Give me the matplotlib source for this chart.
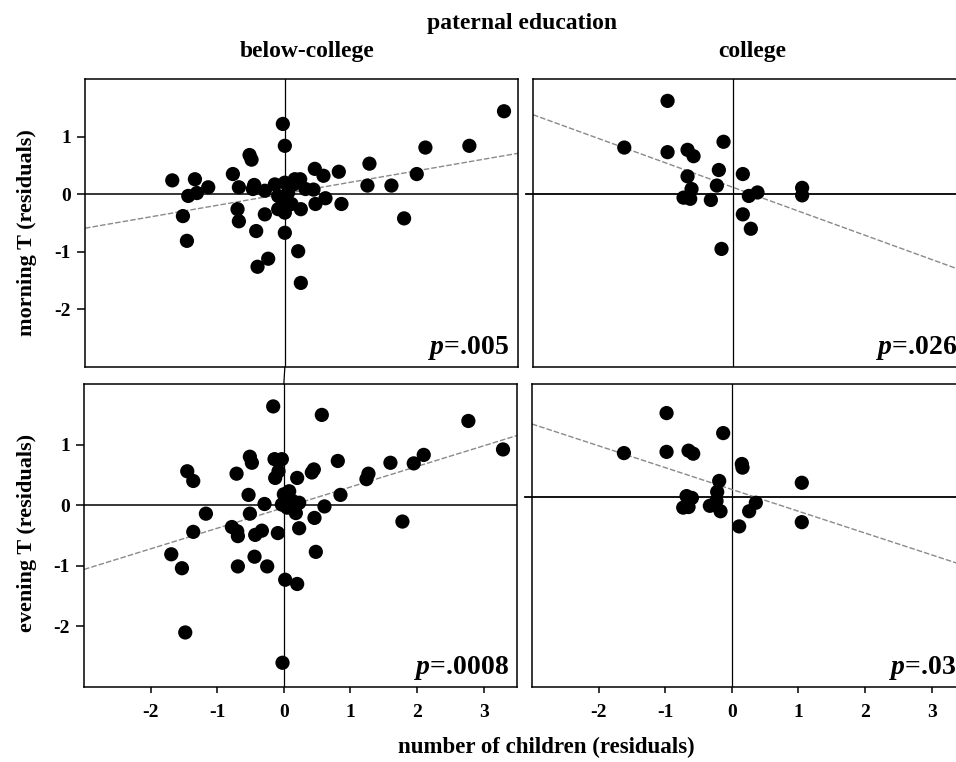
import matplotlib.pyplot as plt
from matplotlib.patches import ConnectionPatch

plt.rcParams['font.family'] = ['Liberation Serif', 'DejaVu Serif']
plt.rcParams['font.weight'] = 'bold'
plt.rcParams['axes.unicode_minus'] = False
plt.rcParams['mathtext.fontset'] = 'custom'
plt.rcParams['mathtext.it'] = 'Liberation Serif:style=italic:weight=bold'
plt.rcParams['mathtext.rm'] = 'Liberation Serif:weight=bold'

# morning T, below-college
mb_x = [3.29, -0.03, 0.00, -0.53, -0.50, 2.11, 2.77, 1.27, 1.98, 1.24, 1.60, 1.79,
        0.81, 0.45, 0.58, 0.85, 0.61, 0.43, 0.46, 0.24, 0.20, 0.24, 0.00, -0.25,
        -0.41, -0.43, -0.30, -0.69, -0.71, -0.78, -0.69, -0.48, -0.46, -0.30, -0.15,
        0.00, 0.15, 0.23, 0.13, -0.10, -0.03, 0.00, 0.10, -0.10, -1.69, -1.35,
        -1.15, -1.32, -1.45, -1.53, -1.47, 0.31, 0.05]
mb_y = [1.44, 1.22, 0.84, 0.68, 0.60, 0.81, 0.84, 0.53, 0.35, 0.15, 0.15, -0.42,
        0.39, 0.44, 0.32, -0.17, -0.07, 0.08, -0.17, -0.26, -0.99, -1.54, -0.67, -1.12,
        -1.26, -0.64, -0.35, -0.47, -0.26, 0.35, 0.12, 0.09, 0.16, 0.06, 0.17,
        0.20, 0.26, 0.26, 0.17, -0.03, -0.15, -0.32, -0.17, -0.26, 0.24, 0.26,
        0.12, 0.02, -0.03, -0.38, -0.81, 0.09, 0.03]

# morning T, college
mc_x = [-0.98, -1.63, -0.98, -0.68, -0.59, -0.14, -0.21, -0.68, -0.62, -0.74, -0.64,
        -0.24, -0.33, 0.15, 0.24, 0.37, 0.15, 0.27, -0.17, 1.04, 1.04]
mc_y = [1.62, 0.81, 0.73, 0.77, 0.66, 0.91, 0.42, 0.31, 0.09, -0.06, -0.08,
        0.15, -0.10, 0.35, -0.03, 0.03, -0.35, -0.60, -0.95, 0.11, -0.02]

# evening T, below-college
eb_x = [-0.16, 0.57, 2.77, 3.29, 2.10, 1.95, 1.60, 1.27, 1.24, 0.81, 0.85, 0.45,
        0.42, 0.61, 0.46, 0.48, 0.23, 0.20, 0.08, 0.00, -0.03, 0.13, 0.23, 0.18,
        0.05, 1.78, -0.14, -0.03, -0.08, -0.13, -0.51, -0.48, -0.71, -0.53, -0.29,
        -0.51, -0.78, -0.69, -0.43, -0.33, -0.09, -0.44, -0.25, -0.69, 0.02, 0.20,
        -0.02, -1.48, -1.45, -1.36, -1.17, -1.36, -1.69, -1.53, -0.70]
eb_y = [1.63, 1.49, 1.39, 0.92, 0.83, 0.69, 0.70, 0.52, 0.43, 0.73, 0.17, 0.59,
        0.54, -0.02, -0.21, -0.77, -0.38, 0.45, 0.23, 0.18, 0.01, 0.07, 0.04, -0.13,
        -0.04, -0.27, 0.76, 0.76, 0.56, 0.45, 0.80, 0.70, 0.52, 0.17, 0.02,
        -0.14, -0.36, -0.51, -0.49, -0.42, -0.46, -0.85, -1.01, -1.01, -1.23, -1.30,
        -2.60, -2.10, 0.56, 0.40, -0.14, -0.44, -0.81, -1.04, -0.43]

# evening T, college
ec_x = [-0.98, -1.62, -0.98, -0.65, -0.58, -0.13, 0.16, 0.15, -0.19, -0.22, -0.68,
        -0.60, -0.73, -0.65, -0.33, -0.17, -0.23, 0.36, 0.26, 0.11, 1.05, 1.05]
ec_y = [1.52, 0.86, 0.88, 0.90, 0.85, 1.19, 0.62, 0.68, 0.40, 0.22, 0.15,
        0.12, -0.04, -0.03, -0.01, -0.10, 0.07, 0.04, -0.10, -0.35, 0.37, -0.28]

# fitted regression lines (intercept, slope)
fit_intercept = [0.01, 0.12, -0.04, 0.26]
fit_slope = [0.20, -0.42, 0.34, -0.36]
p_labels = ['$p$=.005', '$p$=.026', '$p$=.0008', '$p$=.03']
zero_levels = [0.0, 0.0, 0.0, 0.13]

W, H = 956, 762
fig = plt.figure(figsize=(W / 100, H / 100), dpi=100)

def px_axes(left, top, right, bottom):
    return fig.add_axes([left / W, 1 - bottom / H, (right - left) / W, (bottom - top) / H])

ax_tl = px_axes(85, 79, 518, 367)
ax_tr = px_axes(533, 79, 966, 367)
ax_bl = px_axes(84, 384, 517, 687)
ax_br = px_axes(532, 384, 965, 687)
axes = [ax_tl, ax_tr, ax_bl, ax_br]
xs = [mb_x, mc_x, eb_x, ec_x]
ys = [mb_y, mc_y, eb_y, ec_y]

for i, ax in enumerate(axes):
    ax.set_xlim(-3, 3.5)
    ax.set_ylim(-3, 2)
    for sp in ax.spines.values():
        sp.set_linewidth(1.1)
    ax.axvline(0, color='black', lw=0.9, zorder=1)
    if i % 2 == 0:
        ax.axhline(zero_levels[i], color='black', lw=1.1, zorder=1)
    else:
        ax.axhline(zero_levels[i], xmin=-0.017, xmax=1, color='black', lw=1.3,
                   zorder=1, clip_on=False)
    ax.axline((0, fit_intercept[i]), slope=fit_slope[i], color='#8a8a8a',
              lw=1.0, ls=(0, (4, 1.5)), zorder=2)
    ax.scatter(xs[i], ys[i], s=105, color='black', edgecolors='none', zorder=3)
    ax.annotate(p_labels[i], xy=(1, 0), xycoords='axes fraction',
                xytext=(-6, 9), textcoords='offset points',
                ha='right', va='baseline', fontsize=20, fontweight='bold')
    ax.set_xticks([-2, -1, 0, 1, 2, 3])
    ax.set_yticks([-2, -1, 0, 1])
    ax.tick_params(axis='x', length=4.5, width=1.1, pad=8, labelsize=14)
    ax.tick_params(axis='y', length=6, width=1.1, pad=4, labelsize=14)
    if i < 2:
        ax.tick_params(axis='x', bottom=False, labelbottom=False)
    if i % 2 == 1:
        ax.tick_params(axis='y', left=False, labelleft=False)

# zero line of the left column runs across the gap between the panels
con = ConnectionPatch(xyA=(0, -3), coordsA=ax_tl.transData,
                      xyB=(0, 2), coordsB=ax_bl.transData,
                      color='black', lw=0.9)
fig.add_artist(con)

fig.text(522 / W, 1 - 29 / H, 'paternal education', ha='center', va='baseline',
         fontsize=17, fontweight='bold')
fig.text(307 / W, 1 - 57 / H, 'below-college', ha='center', va='baseline',
         fontsize=17, fontweight='bold')
fig.text(752 / W, 1 - 57 / H, 'college', ha='center', va='baseline',
         fontsize=17, fontweight='bold')
fig.text(27 / W, 1 - 233 / H, 'morning T (residuals)', rotation=90, ha='center',
         va='center', fontsize=16, fontweight='bold')
fig.text(27 / W, 1 - 533 / H, 'evening T (residuals)', rotation=90, ha='center',
         va='center', fontsize=16, fontweight='bold')
fig.text(546 / W, 1 - 753 / H, 'number of children (residuals)', ha='center',
         va='baseline', fontsize=16.5, fontweight='bold')

plt.savefig('out.png', dpi=100)
